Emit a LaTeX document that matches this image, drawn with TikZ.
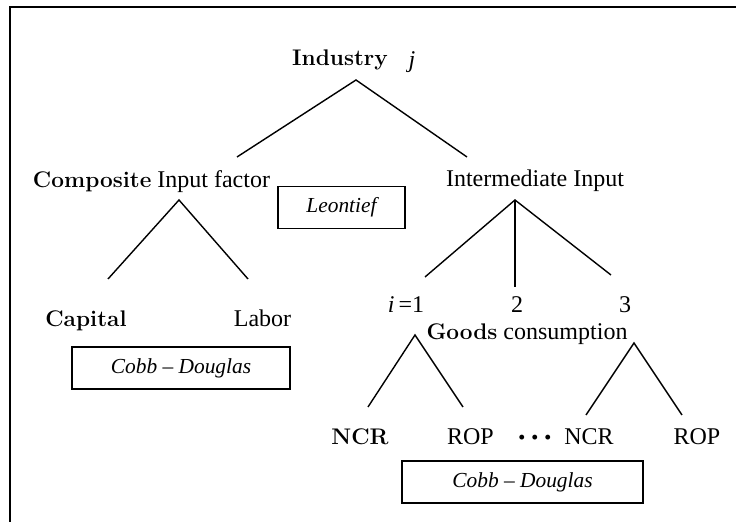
\documentclass[tikz,border=0pt]{standalone}
\usepackage{fontspec}
\newfontfamily\tnr{Liberation Serif}
\newcommand\hd[1]{{\normalfont\bfseries\fontsize{11.3}{13}\selectfont #1}}
\begin{document}
\begin{tikzpicture}[
        x=0.5pt, y=-0.5pt,
        every node/.style={inner sep=0pt, outer sep=0pt},
        txt/.style={font=\tnr\fontsize{12}{14}\selectfont, anchor=base},
        rulebox/.style={draw, line width=0.8pt,
            font=\tnr\itshape\fontsize{10.7}{13}\selectfont,
            minimum height=21pt},
        branch/.style={line width=0.7pt},
        frame/.style={line width=1pt}
    ]
    \useasboundingbox (0,0) rectangle (736,522);
    \draw[frame] (10,522) -- (10,7.5) -- (736,7.5);

    \node[txt] (ind) at (340,66) {\hd{Industry}};
    \node[txt] (j) at (412,68) {\itshape j};

    \node[txt] (comp) at (151.5,188) {\hd{Composite} Input factor};
    \node[txt] (inter) at (535,187) {Intermediate Input};
    \node[rulebox, minimum width=63.5pt] (leon) at (341.5,207.5) {Leontief};

    \node[txt] (cap) at (86,327) {\hd{Capital}};
    \node[txt] (lab) at (262.5,327) {Labor};
    \node[rulebox, minimum width=109pt] (cd1) at (181,368) {Cobb – Douglas};

    \node[txt] (g1) at (406,313) {{\itshape i}\,=1};
    \node[txt] (g2) at (517,313) {2};
    \node[txt] (g3) at (625,313) {3};
    \node[txt] (goods) at (527,340) {\hd{Goods} consumption};

    \node[txt] (ncr1) at (360,445) {\hd{NCR}};
    \node[txt] (rop1) at (470.5,445) {ROP};
    \node[txt, font=\tnr\bfseries\fontsize{15}{16}\selectfont] (dots) at (535,448)
        {·\hspace{1.5pt}·\hspace{1.5pt}·};
    \node[txt] (ncr2) at (589,445) {NCR};
    \node[txt] (rop2) at (697,445) {ROP};
    \node[rulebox, minimum width=120.5pt] (cd2) at (522.5,482) {Cobb – Douglas};

    \coordinate (ind-fork) at (356,80);
    \coordinate (comp-top) at (237,157);
    \coordinate (inter-top) at (467,157);
    \coordinate (comp-fork) at (179,200);
    \coordinate (cap-top) at (108,279);
    \coordinate (lab-top) at (248,279);
    \coordinate (inter-fork) at (515,200);
    \coordinate (g1-top) at (425,277);
    \coordinate (g2-top) at (515,287);
    \coordinate (g3-top) at (611,275);
    \coordinate (g1-fork) at (415,335);
    \coordinate (ncr1-top) at (368,407);
    \coordinate (rop1-top) at (463,407);
    \coordinate (g3-fork) at (634,343);
    \coordinate (ncr2-top) at (586,415);
    \coordinate (rop2-top) at (682,415);

    \draw[branch] (comp-top) -- (ind-fork) -- (inter-top);
    \draw[branch] (cap-top) -- (comp-fork) -- (lab-top);
    \draw[branch] (g1-top) -- (inter-fork) -- (g3-top);
    \draw[branch] (inter-fork) -- (g2-top);
    \draw[branch] (ncr1-top) -- (g1-fork) -- (rop1-top);
    \draw[branch] (ncr2-top) -- (g3-fork) -- (rop2-top);
\end{tikzpicture}
\end{document}
